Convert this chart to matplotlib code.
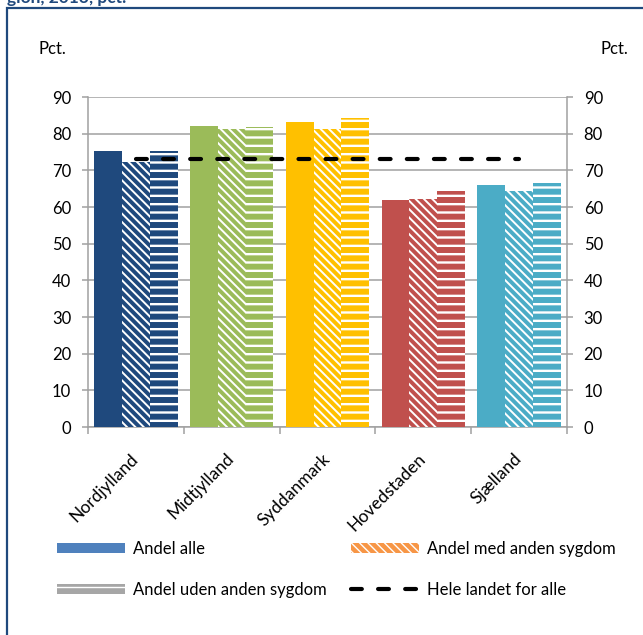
import matplotlib
matplotlib.use('Agg')
import matplotlib.pyplot as plt
from matplotlib.patches import Patch, Rectangle
from matplotlib.lines import Line2D
import numpy as np

plt.rcParams['font.family'] = ['Lato', 'DejaVu Sans']

regions = ['Nordjylland', 'Midtjylland', 'Syddanmark', 'Hovedstaden', 'Sjælland']
andel_alle = [75.2, 82.2, 83.2, 62.0, 66.0]
andel_med = [72.4, 81.3, 81.3, 62.3, 64.3]
andel_uden = [75.3, 81.8, 84.3, 64.3, 66.5]
hele_landet = 73.1
region_colors = ['#1F497D', '#9BBB59', '#FFC000', '#C0504D', '#4BACC6']
yticks = [0, 10, 20, 30, 40, 50, 60, 70, 80, 90]

grey = '#A0A0A0'
fig = plt.figure(figsize=(6.43, 6.35), dpi=100)
ax = fig.add_axes([88 / 643, 1 - 427 / 635, 479 / 643, 330 / 635])

x = np.arange(len(regions))
w = 0.29
diag = '\\' * 4
horiz = '--'


def hatched_bars(xpos, vals, hatch, lw):
    with plt.rc_context({'hatch.linewidth': lw}):
        bars = ax.bar(xpos, vals, w, color=region_colors, edgecolor='white',
                      linewidth=0, hatch=hatch, zorder=3)
    for b in bars:
        if hasattr(b, 'set_hatch_linewidth'):
            b.set_hatch_linewidth(lw)
    return bars


ax.bar(x - w, andel_alle, w, color=region_colors, linewidth=0, zorder=3)
hatched_bars(x, andel_med, diag, 1.4)
hatched_bars(x + w, andel_uden, horiz, 1.7)

ax.plot([x[0], x[-1]], [hele_landet, hele_landet], color='black', lw=3,
        dashes=(2.6, 3.9), dash_capstyle='round', zorder=4)

ax.set_xlim(-0.5, len(regions) - 0.5)
ax.set_ylim(0, 90)
ax.set_yticks(yticks)
ax.grid(axis='y', color=grey, lw=1.1, zorder=0)
ax.set_axisbelow(True)
for s in ['left', 'right', 'bottom']:
    ax.spines[s].set_color(grey)
    ax.spines[s].set_linewidth(1.1)
ax.spines['top'].set_visible(False)
ax.tick_params(axis='y', which='both', direction='out', length=4, width=1.1,
               color=grey, labelsize=12, pad=8, left=True, right=True,
               labelleft=True, labelright=True)

# tick marks between groups, labels under group centres
ax.set_xticks(np.arange(-0.5, len(regions), 1.0))
ax.set_xticklabels([])
ax.tick_params(axis='x', which='major', direction='out', length=5, width=1.1, color=grey)
ax.set_xticks(x, regions, minor=True)
ax.tick_params(axis='x', which='minor', length=0, pad=21, labelsize=12.5)
for lab in ax.get_xticklabels(minor=True):
    lab.set_rotation(45)
    lab.set_rotation_mode('anchor')
    lab.set_ha('right')
    lab.set_va('center')

fig.text(38 / 643, 1 - 49 / 635, 'Pct.', fontsize=12, va='center', ha='left')
fig.text(628 / 643, 1 - 49 / 635, 'Pct.', fontsize=12, va='center', ha='right')

# title cut off by the top edge
fig.text(7 / 643, 1 - 2.5 / 635, 'gion, 2013, pct.', fontsize=12.5, fontweight='bold',
         color='#1F497D', va='baseline', ha='left')

fig.patches.append(Rectangle((7 / 643, -0.1), 1.2, 1.1 - 8 / 635, fill=False,
                             edgecolor='#1F497D', lw=1.6, transform=fig.transFigure))

# legend, two columns
with plt.rc_context({'hatch.linewidth': 1.4}):
    h_med = Patch(facecolor='#F79646', edgecolor='white', linewidth=0, hatch=diag)
with plt.rc_context({'hatch.linewidth': 1.7}):
    h_uden = Patch(facecolor='#A6A6A6', edgecolor='white', linewidth=0, hatch=horiz)
h_alle = Patch(facecolor='#4F81BD', linewidth=0)
h_hele = Line2D([], [], color='black', lw=3, dashes=(2.6, 3.9), dash_capstyle='round')

leg_kw = dict(loc='upper left', frameon=False, fontsize=12, handlelength=4.1,
              handleheight=0.6, handletextpad=0.45, borderpad=0, borderaxespad=0,
              labelspacing=1.5)
fig.legend([h_alle, h_uden], ['Andel alle', 'Andel uden anden sygdom'],
           bbox_to_anchor=(57 / 643, 1 - 541 / 635), **leg_kw)
fig.legend([h_med, h_hele], ['Andel med anden sygdom', 'Hele landet for alle'],
           bbox_to_anchor=(351 / 643, 1 - 541 / 635), **leg_kw)

fig.savefig('out.png', dpi=100)
